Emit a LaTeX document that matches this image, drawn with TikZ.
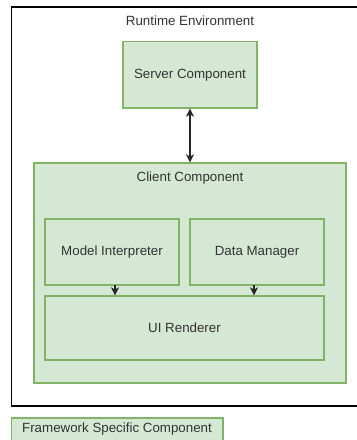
\documentclass[tikz,border=0pt]{standalone}
\usepackage{fontspec}
\setmainfont{Liberation Sans}
\usetikzlibrary{fit,arrows.meta}
\definecolor{greenfill}{HTML}{D5E8D4}
\definecolor{greenline}{HTML}{82B366}
\definecolor{txt}{HTML}{333333}
\tikzset{
  comp/.style={draw=greenline, fill=greenfill, line width=0.9pt, inner sep=0pt,
    text=txt, font=\fontsize{10}{12}\selectfont},
  title/.style={text=txt, font=\fontsize{10}{12}\selectfont, inner sep=0pt},
  tip/.tip={Stealth[length=6pt,width=6pt,inset=1.5pt]},
  flow/.style={draw=black!85, line width=0.8pt, -tip},
}
\begin{document}
\begin{tikzpicture}[x=0.75pt, y=-0.75pt]
\useasboundingbox (0,0) rectangle (357,440);
\clip (0,0) rectangle (357,440);
\fill[white] (0,0) rectangle (357,440);
% runtime environment frame (runs past the right edge)
\node[draw=black, line width=0.9pt, inner sep=0pt, fit={(11.5,7) (362,406)}] (env) {};
\node[title] (envt) at (190,21) {Runtime Environment};
% server
\node[comp, fit={(123,41.5) (257,108)}] (server) {};
\node[title] at (server.center) {Server Component};
% client container
\node[comp, fit={(34,163) (346,383)}] (client) {};
\node[title] (clientt) at (190,178) {Client Component};
\node[comp, fit={(45,219) (179,285)}] (model) {};
\node[title] at (model.center) {Model Interpreter};
\node[comp, fit={(190,219) (324,285)}] (data) {};
\node[title] at (data.center) {Data Manager};
\node[comp, fit={(45,296) (324,360)}] (ui) {};
\node[title] at (ui.center) {UI Renderer};
% connectors
\draw[flow, tip-tip] (server.south) -- (server.south |- client.north);
\draw[flow] (115,285) coordinate (m1) -- (m1 |- ui.north);
\draw[flow] (254,285) coordinate (d1) -- (d1 |- ui.north);
% legend
\node[comp, fit={(11.5,418) (223,446)}] (legend) {};
\node[title] at (117,429) {Framework Specific Component};
\end{tikzpicture}
\end{document}
